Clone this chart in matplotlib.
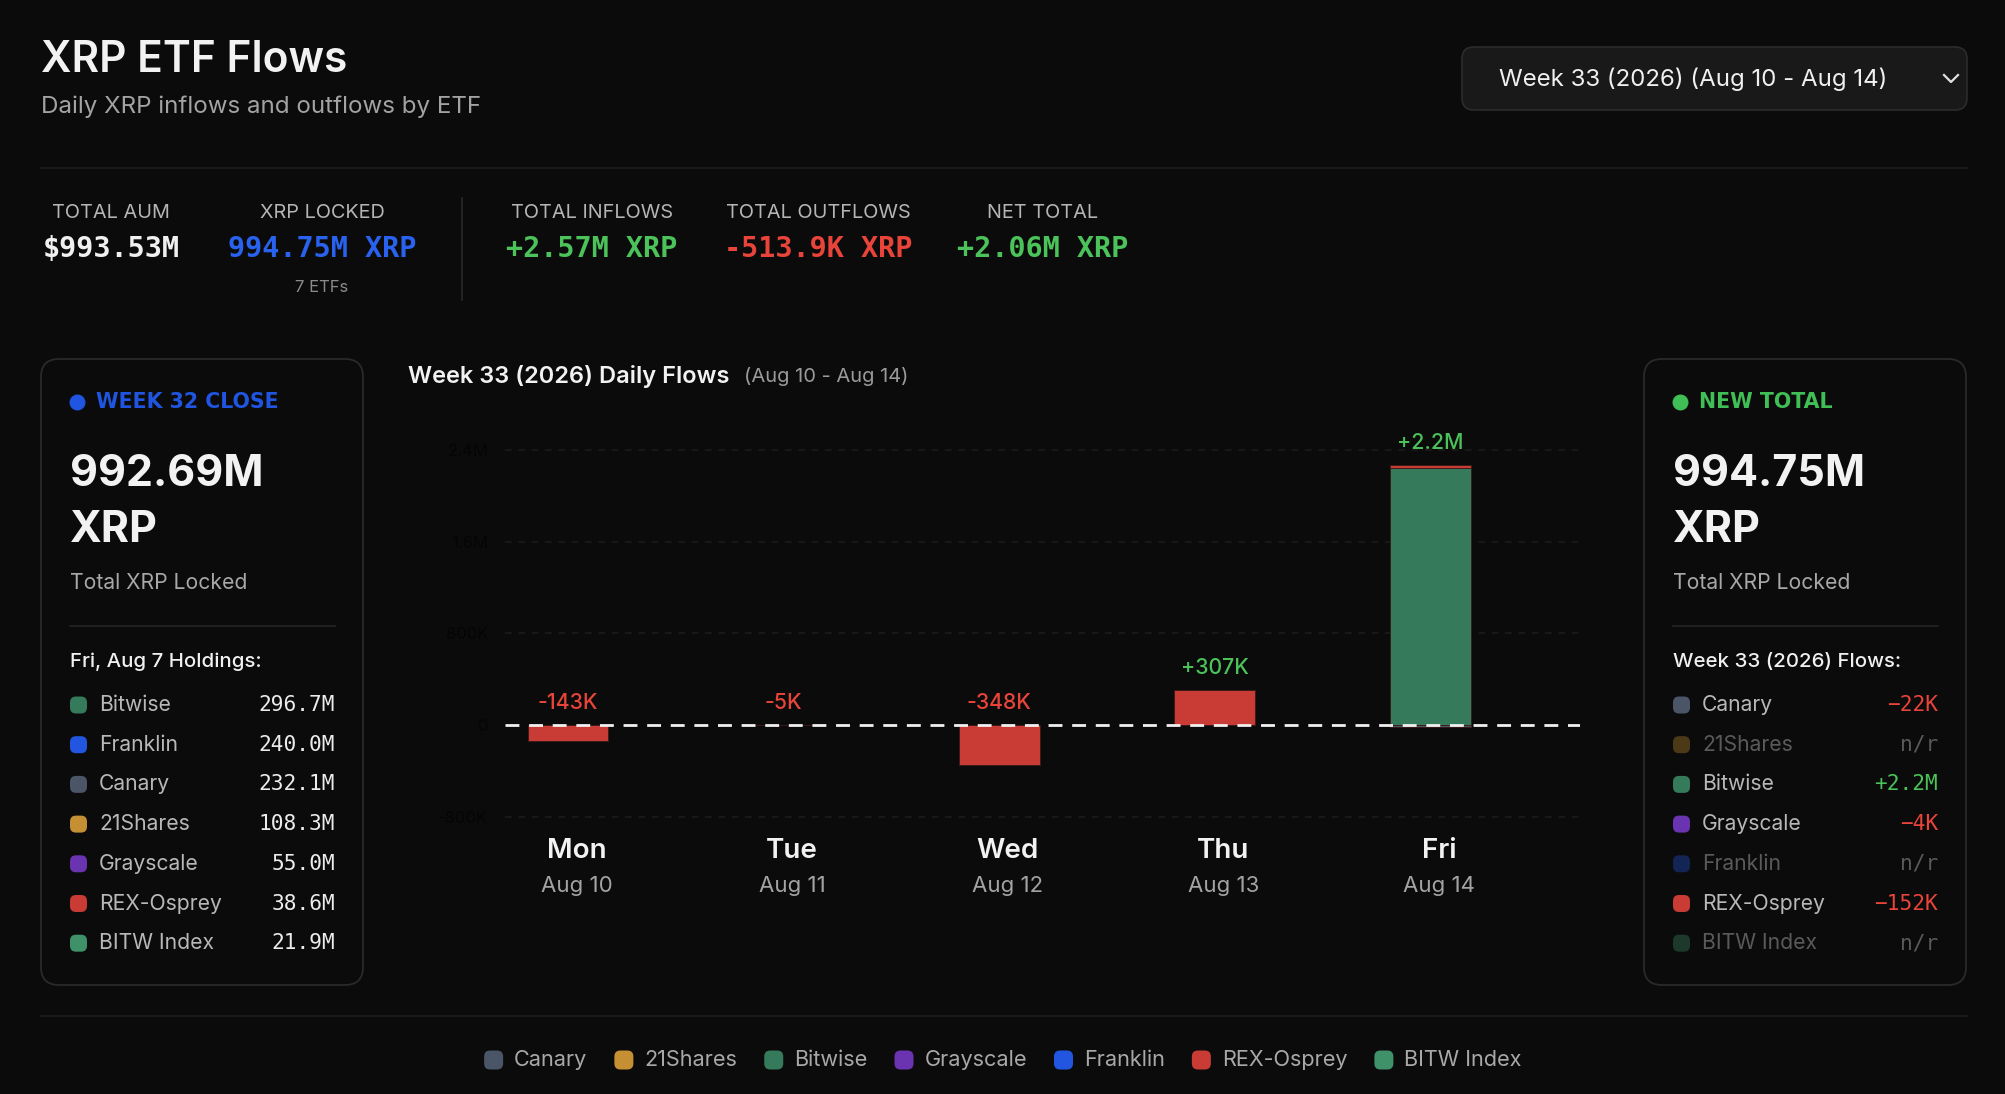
import numpy as np
import matplotlib
matplotlib.use('Agg')
import matplotlib.pyplot as plt
from matplotlib.patches import FancyBboxPatch
from matplotlib.transforms import blended_transform_factory

plt.rcParams['font.family'] = ['Inter', 'DejaVu Sans']

# ---- data ----
days = ['Mon', 'Tue', 'Wed', 'Thu', 'Fri']
dates = ['Aug 10', 'Aug 11', 'Aug 12', 'Aug 13', 'Aug 14']

etfs = ['Canary', '21Shares', 'Bitwise', 'Grayscale', 'Franklin', 'REX-Osprey', 'BITW Index']
etf_colors = ['#4a5568', '#c58f33', '#357a5a', '#6a33b0', '#2356e0', '#c93b35', '#3f9169']

# daily flows per ETF, thousands of XRP
canary_flows = [0, 0, 0, 0, -22]
shares21_flows = [0, 0, 0, 0, 0]
bitwise_flows = [0, 0, 0, 0, 2238]
grayscale_flows = [0, -4, 0, 0, 0]
franklin_flows = [0, 0, 0, 0, 0]
rex_flows = [-143, -1, -348, 307, 33]
bitw_flows = [0, 0, 0, 0, 0]

# Fri, Aug 7 holdings (left panel)
hold_names = ['Bitwise', 'Franklin', 'Canary', '21Shares', 'Grayscale', 'REX-Osprey', 'BITW Index']
hold_values = ['296.7M', '240.0M', '232.1M', '108.3M', '55.0M', '38.6M', '21.9M']

# week flows (right panel)
week_names = ['Canary', '21Shares', 'Bitwise', 'Grayscale', 'Franklin', 'REX-Osprey', 'BITW Index']
week_values = ['\u221222K', 'n/r', '+2.2M', '\u22124K', 'n/r', '\u2212152K', 'n/r']

stat_labels = ['TOTAL AUM', 'XRP LOCKED', 'TOTAL INFLOWS', 'TOTAL OUTFLOWS', 'NET TOTAL']
stat_values = ['$993.53M', '994.75M XRP', '+2.57M XRP', '-513.9K XRP', '+2.06M XRP']

BG = '#0b0b0b'
GREEN = '#4cc35a'
RED = '#e8443a'
BLUE = '#2a62f0'
W, H = 2006, 1094

fig = plt.figure(figsize=(W / 100, H / 100), dpi=100, facecolor=BG)
bg = fig.add_axes([0, 0, 1, 1])
bg.set_xlim(0, W)
bg.set_ylim(H, 0)
bg.axis('off')
bg.set_facecolor(BG)
color_of = dict(zip(etfs, etf_colors))

# ---- header ----
bg.text(41, 60, 'XRP ETF Flows', color='#f2f2f2', fontsize=30.5, fontweight='semibold', va='center')
bg.text(41, 107, 'Daily XRP inflows and outflows by ETF', color='#a3a3a3', fontsize=17.4, va='center')

bg.add_patch(FancyBboxPatch((1462, 47), 505, 63, boxstyle='round,pad=0,rounding_size=12',
                            facecolor='#191919', edgecolor='#2c2c2c', lw=1.2))
bg.text(1499, 79, 'Week 33 (2026) (Aug 10 - Aug 14)', color='#f0f0f0', fontsize=17.3, va='center')
bg.plot([1944, 1951, 1958], [75, 82, 75], color='#e0e0e0', lw=1.6)

bg.plot([41, 1967], [168, 168], color='#1f1f1f', lw=1.2)

stat_x = [111, 322, 592, 818, 1043]
stat_colors = ['#f0f0f0', BLUE, GREEN, RED, GREEN]
for x, lab, val, c in zip(stat_x, stat_labels, stat_values, stat_colors):
    bg.text(x, 213, lab, color='#b5b5b5', fontsize=14.3, ha='center', va='center')
    bg.text(x, 249, val, color=c, fontsize=20.5, ha='center', va='center',
            family=['DejaVu Sans Mono'], fontweight='bold')
bg.text(322, 288, '7 ETFs', color='#8a8a8a', fontsize=12, ha='center', va='center')
bg.plot([462, 462], [198, 300], color='#2a2a2a', lw=1.2)

# ---- side panels ----
def side_panel(x0, dot_color, head, big, sub, list_head, names, values, value_colors, dim):
    bg.add_patch(FancyBboxPatch((x0, 359), 322, 626, boxstyle='round,pad=0,rounding_size=18',
                                facecolor=BG, edgecolor='#2a2a2a', lw=1.3))
    lx = x0 + 29
    bg.scatter([lx + 7], [402], s=110, color=dot_color, zorder=3)
    bg.text(lx + 26, 402, head, color=dot_color, fontsize=14.8, fontweight='bold', va='center',
            family=['DejaVu Sans'])
    bg.text(lx, 474, big, color='#f2f2f2', fontsize=31, fontweight='bold', va='center')
    bg.text(lx, 530, 'XRP', color='#f2f2f2', fontsize=31, fontweight='bold', va='center')
    bg.text(lx, 583, sub, color='#a8a8a8', fontsize=15.2, va='center')
    bg.plot([lx, x0 + 294], [626, 626], color='#252525', lw=1.2)
    bg.text(lx, 662, list_head, color='#f0f0f0', fontsize=14.7, fontweight='medium', va='center')
    for i, (n, v, vc, d) in enumerate(zip(names, values, value_colors, dim)):
        y = 705 + i * 39.7
        a = 0.35 if d else 1.0
        bg.add_patch(FancyBboxPatch((lx, y - 8.5), 17, 17, boxstyle='round,pad=0,rounding_size=6',
                                    facecolor=color_of[n], edgecolor='none', alpha=a))
        bg.text(lx + 29, y, n, color='#5a5a5a' if d else '#b8b8b8', fontsize=15.2, va='center')
        bg.text(x0 + 294, y, v, color=vc, fontsize=15.2, ha='right', va='center',
                family=['DejaVu Sans Mono'])

side_panel(41, '#1f55e0', 'WEEK 32 CLOSE', '992.69M', 'Total XRP Locked', 'Fri, Aug 7 Holdings:',
           hold_names, hold_values, ['#ececec'] * 7, [False] * 7)

week_colors = []
week_dim = []
for v in week_values:
    week_dim.append(v == 'n/r')
    week_colors.append('#5a5a5a' if v == 'n/r' else (GREEN if v.startswith('+') else RED))
side_panel(1644, '#3fbf55', 'NEW TOTAL', '994.75M', 'Total XRP Locked', 'Week 33 (2026) Flows:',
           week_names, week_values, week_colors, week_dim)

# ---- daily flows chart ----
ax = fig.add_axes([505 / W, 1 - 828 / H, 1075 / W, (828 - 427) / H])
ax.set_facecolor(BG)
x = np.arange(len(days))
series = [canary_flows, shares21_flows, bitwise_flows, grayscale_flows,
          franklin_flows, rex_flows, bitw_flows]
pos_base = np.zeros(len(days))
neg_base = np.zeros(len(days))
for name, vals in zip(etfs, series):
    vals = np.array(vals, dtype=float)
    pos = np.where(vals > 0, vals, 0)
    neg = np.where(vals < 0, vals, 0)
    ax.bar(x, pos, 0.375, bottom=pos_base, color=color_of[name], edgecolor='#3a1a18', lw=0.6, zorder=2)
    ax.bar(x, neg, 0.375, bottom=neg_base, color=color_of[name], edgecolor='#3a1a18', lw=0.6, zorder=2)
    pos_base += pos
    neg_base += neg

totals = np.sum(series, axis=0)
for i, t in enumerate(totals):
    lab = f'{t / 1000:+.1f}M' if abs(t) >= 1000 else f'{t:+.0f}K'
    ytop = pos_base[i] if t > 0 else 0
    ax.annotate(lab, (x[i], ytop), xytext=(0, 22), textcoords='offset pixels',
                ha='center', va='center', fontsize=15.3, fontweight='medium',
                color=GREEN if t > 0 else RED, zorder=4)

ax.set_xlim(-0.292, 4.694)
ax.set_ylim(-900, 2600)
yt = [-800, 0, 800, 1600, 2400]
ax.set_yticks(yt)
ax.set_yticklabels(['-800K', '0', '800K', '1.6M', '2.4M'], color='#050505', fontsize=12)
ax.tick_params(axis='y', length=0, pad=12)
ax.set_xticks([])
for v in yt:
    if v != 0:
        ax.axhline(v, color='#1b1b1b', lw=1.2, ls=(0, (4, 4)), zorder=1)
ax.axhline(0, color='#f0f0f0', lw=2, ls=(0, (5, 3.5)), zorder=3)
for s in ax.spines.values():
    s.set_visible(False)

tr = blended_transform_factory(ax.transData, bg.transData)
for i in range(len(days)):
    ax.text(x[i] + 0.04, 851, days[i], transform=tr, ha='center', va='center',
            color='#f2f2f2', fontsize=20, fontweight='semibold')
    ax.text(x[i] + 0.04, 886, dates[i], transform=tr, ha='center', va='center',
            color='#a3a3a3', fontsize=16)

renderer = fig.canvas.get_renderer()
t1 = bg.text(408, 376, 'Week 33 (2026) Daily Flows', color='#f2f2f2', fontsize=17,
             fontweight='semibold', va='center')
w1 = t1.get_window_extent(renderer).width
bg.text(408 + w1 + 15, 377, '(Aug 10 - Aug 14)', color='#9a9a9a', fontsize=14.5, va='center')

# ---- bottom legend ----
bg.plot([41, 1967], [1016, 1016], color='#1f1f1f', lw=1.2)
items = []
total_w = 0
for n in etfs:
    t = bg.text(0, 1060, n, color='#a8a8a8', fontsize=15.6, va='center')
    w = t.get_window_extent(renderer).width
    items.append((t, w))
    total_w += 30 + w
total_w += 27 * (len(etfs) - 1)
cx = 1003 - total_w / 2
for (t, w), c in zip(items, etf_colors):
    bg.add_patch(FancyBboxPatch((cx, 1050.5), 19, 19, boxstyle='round,pad=0,rounding_size=6',
                                facecolor=c, edgecolor='none'))
    t.set_x(cx + 30)
    cx += 30 + w + 27

fig.savefig('out.png', dpi=100, facecolor=BG)
